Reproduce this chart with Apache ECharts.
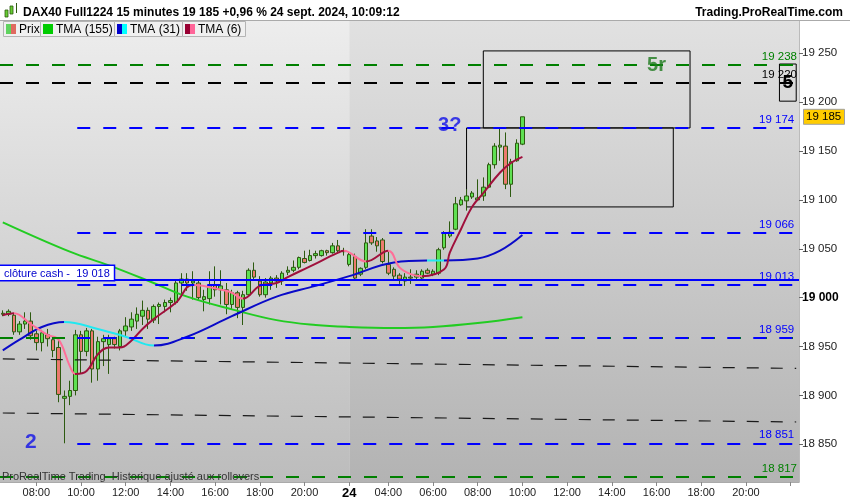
<!DOCTYPE html>
<html>
<head>
<meta charset="utf-8">
<script src="https://cdn.jsdelivr.net/npm/echarts@6/dist/echarts.min.js"></script>
<style>
  html, body { margin: 0; padding: 0; background: #fff; }
  #chart { width: 850px; height: 500px; }
</style>
</head>
<body>
<div id="chart"></div>
<script>
// 15 minute bars, 23 sept. 06:30 -> 21:45, then 24 sept. 02:15 -> 22:15 (empty future slots)
const day23Times = [];
const day24Times = [];
const hhmm = m => String(Math.floor(m / 60)).padStart(2, '0') + ':' + String(m % 60).padStart(2, '0');
for (let m = 6 * 60 + 30; m <= 21 * 60 + 45; m += 15) day23Times.push('23 ' + hhmm(m));
for (let m = 2 * 60 + 15; m <= 22 * 60 + 15; m += 15) day24Times.push('24 ' + hhmm(m));
const categories = day23Times.concat(day24Times);

// tick labels of the time axis
const xLabelIndex = [6, 14, 22, 30, 38, 46, 54, 62, 69, 77, 85, 93, 101, 109, 117, 125, 133];
const xLabelText = ['08:00', '10:00', '12:00', '14:00', '16:00', '18:00', '20:00', '24', '04:00',
  '06:00', '08:00', '10:00', '12:00', '14:00', '16:00', '18:00', '20:00'];
const xTickIndex = xLabelIndex.concat([141]);
const yTicks = [18850, 18900, 18950, 19000, 19050, 19100, 19150, 19200, 19250];

// candles
const candleOpen = [18984, 18983, 18982, 18965, 18973, 18976, 18963, 18954, 18962, 18957,
  18949, 18897, 18899, 18905, 18962, 18945, 18966, 18927, 18955, 18952,
  18958, 18950, 18966, 18970, 18976, 18981, 18987, 18977, 18991, 18991,
  18995, 18995, 19015, 19019, 19015, 19015, 18998, 18999, 19013, 19008,
  19008, 18993, 19005, 18990, 19003, 19028, 19017, 19003, 19015, 19020,
  19017, 19026, 19028, 19031, 19040, 19038, 19043, 19043, 19048, 19046,
  19053, 19047, 19034, 19042, 19024, 19031, 19063, 19058, 19059, 19034,
  19029, 19023, 19017, 19021, 19021, 19020, 19028, 19024, 19025, 19051,
  19063, 19070, 19095, 19099, 19103, 19100, 19104, 19113, 19136, 19154,
  19155, 19116, 19140, 19157];
const candleClose = [18983, 18986, 18965, 18973, 18976, 18961, 18954, 18964, 18958, 18946,
  18901, 18899, 18905, 18962, 18945, 18966, 18927, 18955, 18958, 18958,
  18952, 18966, 18971, 18978, 18983, 18987, 18978, 18991, 18993, 18995,
  18997, 19015, 19019, 19015, 19017, 19000, 19001, 19012, 19008, 19012,
  18993, 19005, 18990, 19003, 19028, 19021, 19003, 19016, 19020, 19017,
  19025, 19028, 19031, 19041, 19036, 19043, 19045, 19048, 19046, 19053,
  19048, 19048, 19044, 19020, 19030, 19056, 19056, 19053, 19037, 19025,
  19022, 19019, 19021, 19020, 19024, 19027, 19025, 19027, 19049, 19066,
  19067, 19096, 19100, 19104, 19107, 19102, 19113, 19136, 19155, 19156,
  19116, 19139, 19158, 19185];
const candleLow = [18981, 18981, 18962, 18962, 18968, 18957, 18946, 18945, 18950, 18939,
  18893, 18851, 18890, 18900, 18922, 18940, 18913, 18915, 18930, 18922,
  18948, 18946, 18960, 18966, 18968, 18972, 18968, 18974, 18973, 18985,
  18985, 18993, 19003, 19007, 18998, 18998, 18986, 18993, 19001, 18993,
  18983, 18988, 18979, 18972, 19001, 19018, 19001, 19000, 19008, 19010,
  19013, 19023, 19026, 19029, 19035, 19037, 19040, 19042, 19043, 19045,
  19045, 19043, 19032, 19018, 19022, 19029, 19054, 19047, 19035, 19023,
  19019, 19014, 19012, 19014, 19018, 19018, 19024, 19022, 19023, 19049,
  19061, 19069, 19094, 19089, 19101, 19099, 19099, 19112, 19132, 19140,
  19111, 19103, 19139, 19156];
const candleHigh = [18987, 18988, 18984, 18976, 18985, 18985, 18966, 18967, 18968, 18960,
  18957, 18905, 18915, 18967, 18966, 18969, 18968, 18960, 18962, 18962,
  18960, 18968, 18980, 18985, 18990, 18997, 18990, 18993, 18995, 18998,
  19000, 19017, 19025, 19025, 19027, 19018, 19008, 19027, 19032, 19028,
  19015, 19008, 19007, 19007, 19030, 19036, 19022, 19020, 19022, 19023,
  19027, 19032, 19038, 19042, 19048, 19049, 19048, 19049, 19049, 19056,
  19059, 19051, 19046, 19045, 19031, 19070, 19070, 19062, 19061, 19048,
  19031, 19025, 19025, 19029, 19028, 19029, 19030, 19029, 19051, 19068,
  19078, 19103, 19103, 19111, 19109, 19121, 19123, 19138, 19158, 19173,
  19169, 19142, 19162, 19185];

// moving averages, [bar index, value] read at points along each curve
const tma155 = [[0, 19077], [12, 19047], [19, 19033], [27, 19015], [33, 19001], [41, 18988],
  [49, 18977], [56, 18972], [62, 18970], [70, 18969], [77, 18970], [85, 18974], [93, 18980]];
const tma31 = [[0, 18946], [3, 18957], [7, 18970], [11, 18975], [17, 18968], [22, 18960],
  [27, 18951], [33, 18960], [41, 18981], [49, 19001], [56, 19012], [62, 19022], [70, 19036],
  [76, 19038], [79, 19038], [85, 19040], [89, 19048], [93, 19064]];
const tma6 = [[0, 18982], [2, 18984], [5, 18973], [8, 18962], [10, 18957], [12, 18930], [13, 18922],
  [15, 18925], [17, 18942], [19, 18949], [21, 18949], [23, 18956], [25, 18968], [27, 18978],
  [31, 18995], [34, 19013], [40, 19007], [41, 19005], [43, 18999], [46, 19012], [49, 19015],
  [51, 19021], [55, 19032], [60, 19046], [61, 19048], [65, 19037], [69, 19048], [71, 19031],
  [73, 19024], [75, 19022], [79, 19029], [80, 19046], [82, 19070], [84, 19093], [86, 19107],
  [89, 19128], [91, 19138], [93, 19144]];
// bar indices where the slope colour of the averages changes
const tma31Turns = [11, 27, 76, 79];
const tma6Turns = [2, 13, 34, 43, 61, 65, 69, 75];

// drawn levels
const greenLevels = [19238, 18959, 18817];
const blackLevels = [19220];
const blueLevels = [19174, 19066, 19013, 18959, 18851];
const blueLevelStart = 11;
const cashClose = 19018;
const lastPrice = 19185;
const trendLines = [[[0, 18937.3], [142, 18927.6]], [[0, 18882], [142, 18872.8]]];
const boxes = [[86, 19252.4, 123, 19173.6], [83, 19173.6, 120, 19092.8]];
const box5 = [139, 19239, 142, 19201];
const waveText = ['5r', '3?', '2'];
const waveBar = [117, 80, 5];
const waveValue = [19237, 19176, 18852];

const FONT = "'Liberation Sans', Arial, sans-serif";
const fmt = v => String(v).replace(/\B(?=(\d{3})+(?!\d))/g, ' ');
const GRID = { left: 0, top: 21, width: 799, height: 461 };

const dashed = (color, width) => ({ type: [13, 13], color: color, width: width || 2 });
const levelLabel = (color, v, show) => ({
  show: show !== false, position: 'insideEndTop', distance: 2,
  formatter: fmt(v), color: color, fontSize: 11.5, fontFamily: FONT
});

const markLines = [];
greenLevels.forEach(v => markLines.push({
  yAxis: v, lineStyle: dashed('#008000'), label: levelLabel('#008000', v, v !== 18959)
}));
blackLevels.forEach(v => markLines.push({
  yAxis: v, lineStyle: dashed('#000000'), label: levelLabel('#000000', v)
}));
blueLevels.forEach(v => markLines.push([
  { coord: [blueLevelStart, v], lineStyle: Object.assign(dashed('#0000ff'), { dashOffset: 13 }),
    label: levelLabel('#0000ff', v) },
  { coord: [categories.length - 1, v] }
]));
trendLines.forEach(t => markLines.push([
  { coord: t[0], lineStyle: { type: [12, 12], color: '#1a1a1a', width: 1.2 }, label: { show: false } },
  { coord: t[1] }
]));
markLines.push({
  yAxis: cashClose, lineStyle: { type: 'solid', color: '#0000ff', width: 2 },
  label: {
    show: true, position: 'insideStartTop', distance: 0, formatter: 'clôture cash -  19 018',
    color: '#0000cc', fontSize: 11, fontFamily: FONT, backgroundColor: '#fff',
    borderColor: '#0000ff', borderWidth: 1.5, padding: [2, 4, 1, 4]
  }
});

const markAreas = boxes.map(b => [
  { coord: [b[0], b[1]], itemStyle: { color: 'rgba(0,0,0,0)', borderColor: '#000', borderWidth: 1 } },
  { coord: [b[2], b[3]] }
]);
markAreas.push([
  { coord: [box5[0], box5[1]], itemStyle: { color: 'rgba(0,0,0,0)', borderColor: '#000', borderWidth: 1 },
    label: { show: true, position: 'inside', formatter: '5', fontSize: 19, fontWeight: 'bold', color: '#000', fontFamily: FONT } },
  { coord: [box5[2], box5[3]] }
]);

const piecesFrom = (turns, c1, c2) => {
  const pieces = [];
  let lo = -Infinity;
  turns.concat([Infinity]).forEach((t, k) => {
    pieces.push({ gt: lo, lte: t, color: k % 2 === 0 ? c1 : c2 });
    lo = t;
  });
  return pieces;
};

const waveColors = { '5r': '#1e7a1e', '3?': '#1010e8', '2': '#1010e8' };

const chart = echarts.init(document.getElementById('chart'), null, { renderer: 'canvas' });

const option = {
  animation: false,
  backgroundColor: '#ffffff',
  textStyle: { fontFamily: FONT },
  grid: GRID,
  xAxis: {
    type: 'category',
    data: categories,
    boundaryGap: true,
    axisLine: { show: true, lineStyle: { color: '#aaaaaa' } },
    axisTick: { show: true, alignWithLabel: true, length: 4, interval: i => xTickIndex.includes(i), lineStyle: { color: '#888' } },
    axisLabel: {
      interval: i => xLabelIndex.includes(i),
      formatter: (v, i) => {
        const t = xLabelText[xLabelIndex.indexOf(i)];
        return t === '24' ? '{d|24}' : t;
      },
      color: '#222', fontSize: 11, fontFamily: FONT, margin: 5,
      rich: { d: { fontWeight: 'bold', fontSize: 13, color: '#000', fontFamily: FONT } }
    },
    splitLine: { show: false }
  },
  yAxis: {
    type: 'value',
    position: 'right',
    min: 18811.4,
    max: 19283,
    axisLine: { show: true, lineStyle: { color: '#bbbbbb' } },
    axisTick: { show: true, customValues: yTicks, length: 4, lineStyle: { color: '#666' } },
    axisLabel: {
      customValues: yTicks,
      formatter: v => v === 19000 ? '{b|19 000}' : fmt(v),
      color: '#222', fontSize: 11.5, fontFamily: FONT, margin: 3,
      rich: { b: { fontWeight: 'bold', fontSize: 12, color: '#000', fontFamily: FONT } }
    },
    splitLine: { show: false }
  },
  visualMap: [
    { type: 'piecewise', show: false, seriesIndex: 2, dimension: 0, pieces: piecesFrom(tma31Turns, '#0a0ac8', '#22e8f0') },
    { type: 'piecewise', show: false, seriesIndex: 3, dimension: 0, pieces: piecesFrom(tma6Turns, '#a0103c', '#ff6f98') }
  ],
  series: [
    {
      name: 'Prix',
      type: 'candlestick',
      data: candleOpen.map((o, i) => [o, candleClose[i], candleLow[i], candleHigh[i]]),
      barWidth: 4,
      itemStyle: {
        color: '#5fe052', color0: '#ec7a6e',
        borderColor: '#2d5a10', borderColor0: '#2d5a10', borderWidth: 1
      },
      markLine: { silent: true, symbol: ['none', 'none'], data: markLines },
      markArea: { silent: true, data: markAreas }
    },
    {
      name: 'TMA (155)', type: 'line', data: tma155, smooth: 0.4, showSymbol: false,
      lineStyle: { color: '#22cc22', width: 2 }, z: 3
    },
    {
      name: 'TMA (31)', type: 'line', data: tma31, smooth: 0.4, showSymbol: false,
      lineStyle: { width: 2 }, z: 3
    },
    {
      name: 'TMA (6)', type: 'line', data: tma6, smooth: 0.4, showSymbol: false,
      lineStyle: { width: 2 }, z: 4
    },
    {
      name: 'waves', type: 'scatter', symbolSize: 1, silent: true, z: 6,
      itemStyle: { color: 'rgba(0,0,0,0)' },
      data: waveText.map((t, k) => ({
        value: [waveBar[k], waveValue[k]],
        label: {
          show: true, position: 'inside', formatter: t, color: waveColors[t],
          fontSize: t === '2' ? 21 : 20, fontWeight: 'bold', fontFamily: FONT
        }
      }))
    }
  ]
};
chart.setOption(option);

// background bands, header, legend tabs and last price tag on the axis
const xDay24 = chart.convertToPixel({ xAxisIndex: 0 }, day24Times[0]);
const yLast = chart.convertToPixel({ yAxisIndex: 0 }, lastPrice);
const bandGradient = (c1, c2) => new echarts.graphic.LinearGradient(0, 0, 0, 1, [
  { offset: 0, color: c1 }, { offset: 1, color: c2 }
]);
const tabs = [
  { x: 3, w: 37, text: 'Prix', c1: '#5fd35f', c2: '#e06a60' },
  { x: 40, w: 74, text: 'TMA (155)', c1: '#00cc00', c2: '#00cc00' },
  { x: 114, w: 68, text: 'TMA (31)', c1: '#0000cc', c2: '#00ffff' },
  { x: 182, w: 63, text: 'TMA (6)', c1: '#990033', c2: '#ff6699' }
];
const graphics = [
  { type: 'rect', z: -10, silent: true,
    shape: { x: GRID.left, y: GRID.top, width: xDay24 - GRID.left, height: GRID.height },
    style: { fill: bandGradient('#ededed', '#bcbcbc') } },
  { type: 'rect', z: -10, silent: true,
    shape: { x: xDay24, y: GRID.top, width: GRID.left + GRID.width - xDay24, height: GRID.height },
    style: { fill: bandGradient('#e1e1e1', '#b3b3b3') } },
  { type: 'line', z: 50, silent: true, shape: { x1: 0, y1: 20.5, x2: 850, y2: 20.5 }, style: { stroke: '#aaaaaa', lineWidth: 1 } },
  { type: 'rect', z: 50, silent: true, shape: { x: 5, y: 10, width: 3, height: 7 }, style: { fill: '#66cc33', stroke: '#2d5a10', lineWidth: 0.8 } },
  { type: 'rect', z: 50, silent: true, shape: { x: 10, y: 6, width: 3, height: 8 }, style: { fill: '#66cc33', stroke: '#2d5a10', lineWidth: 0.8 } },
  { type: 'line', z: 50, silent: true, shape: { x1: 16.5, y1: 3, x2: 16.5, y2: 13 }, style: { stroke: '#2d5a10', lineWidth: 1 } },
  { type: 'text', z: 50, silent: true, x: 23, y: 12.5,
    style: { text: 'DAX40 Full1224 15 minutes 19 185 +0,96 % 24 sept. 2024, 10:09:12', font: 'bold 12px ' + FONT, fill: '#000', verticalAlign: 'middle' } },
  { type: 'text', z: 50, silent: true, x: 843, y: 12.5,
    style: { text: 'Trading.ProRealTime.com', font: 'bold 12px ' + FONT, fill: '#000', align: 'right', verticalAlign: 'middle' } },
  { type: 'text', z: 50, silent: true, x: 2, y: 477,
    style: { text: 'ProRealTime Trading  Historique ajusté aux rollovers', font: '11px ' + FONT, fill: '#333', verticalAlign: 'middle' } },
  { type: 'rect', z: 70, silent: true, shape: { x: 803.5, y: yLast - 7.5, width: 41, height: 15 },
    style: { fill: '#ffcc00', stroke: '#a0a0a0', lineWidth: 1 } },
  { type: 'text', z: 71, silent: true, x: 806, y: yLast + 0.5,
    style: { text: fmt(lastPrice), font: '11.5px ' + FONT, fill: '#000', verticalAlign: 'middle' } }
];
tabs.forEach(t => {
  graphics.push({ type: 'rect', z: 60, silent: true, shape: { x: t.x + 0.5, y: 21.5, width: t.w, height: 15 },
    style: { fill: '#f0f0f0', stroke: '#b4b4b4', lineWidth: 1 } });
  graphics.push({ type: 'rect', z: 61, silent: true, shape: { x: t.x + 3, y: 24, width: 5, height: 10 }, style: { fill: t.c1 } });
  graphics.push({ type: 'rect', z: 61, silent: true, shape: { x: t.x + 8, y: 24, width: 5, height: 10 }, style: { fill: t.c2 } });
  graphics.push({ type: 'text', z: 62, silent: true, x: t.x + 16, y: 29.5,
    style: { text: t.text, font: '12px ' + FONT, fill: '#000', verticalAlign: 'middle' } });
});
chart.setOption({ graphic: graphics });
</script>
</body>
</html>
